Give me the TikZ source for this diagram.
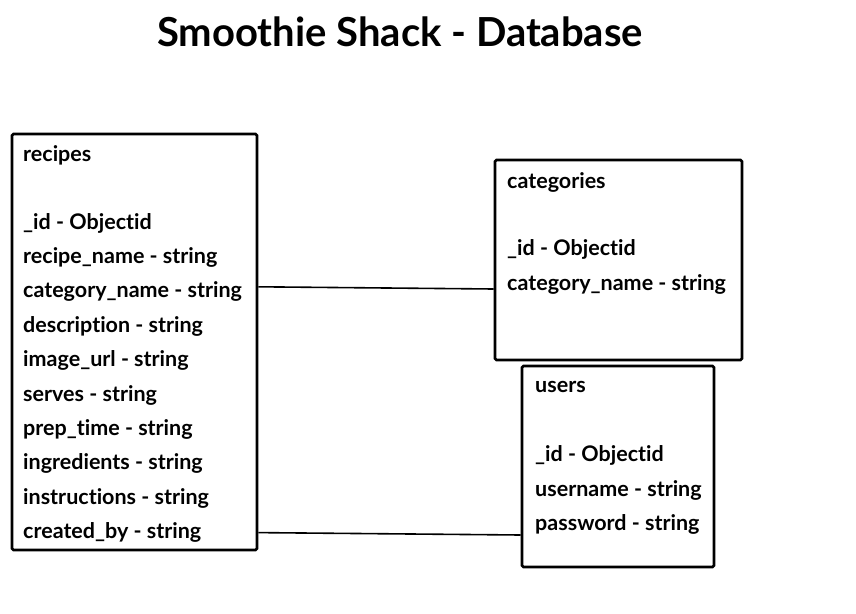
\documentclass[tikz,border=0pt]{standalone}
\usepackage{fontspec}
\setmainfont{Lato}[Ligatures={NoCommon,NoRare}]
\usetikzlibrary{calc}

\tikzset{
  table/.style={draw, line width=2.6pt, rounded corners=1.5pt, inner sep=0pt},
  field/.style={anchor=west, inner sep=0pt, font=\fontsize{21.5}{24}\selectfont\bfseries},
  link/.style={line width=1.6pt},
}

\begin{document}
\begin{tikzpicture}[x=1pt, y=-1pt]
\useasboundingbox (0,0) rectangle (856,613);
\node at (400, 32) (title) {\fontsize{40}{46}\selectfont\bfseries Smoothie Shack - Database};
% tables
\node[table, minimum width=245pt, minimum height=416pt] at (134.5, 342) (recipes) {};
\node[table, minimum width=247pt, minimum height=200pt] at (618.5, 260) (categories) {};
\node[table, minimum width=192pt, minimum height=201pt] at (618, 466.5) (users) {};
% recipes fields
\node[field] at (23, 155) (rname) {recipes};
\foreach \f [count=\i] in {\_id - Objectid, recipe\_name - string, category\_name - string,
  description - string, image\_url - string, serves - string, prep\_time - string,
  ingredients - string, instructions - string, created\_by - string}
  \node[field] at (23, 223+34.4*\i-34.4) (r\i) {\f};
% categories fields
\node[field] at (507, 182) (cname) {categories};
\node[field] at (507, 249) (c1) {\_id - Objectid};
\node[field] at (507, 284) (c2) {category\_name - string};
% users fields
\node[field] at (535, 387) (uname) {users};
\node[field] at (535, 455) (u1) {\_id - Objectid};
\node[field] at (535, 490) (u2) {username - string};
\node[field] at (535, 524) (u3) {password - string};
% relations
\coordinate (rcat) at ($(recipes.east |- r3.west)+(0,-5)$);
\coordinate (ccat) at ($(categories.west |- c2.west)+(0,5)$);
\coordinate (rby) at ($(recipes.east |- r10.west)+(0,0)$);
\coordinate (uby) at ($(users.west |- u3.west)+(0,11)$);
\path (rcat) edge[link] (ccat);
\path (rby) edge[link] (uby);
\end{tikzpicture}
\end{document}
